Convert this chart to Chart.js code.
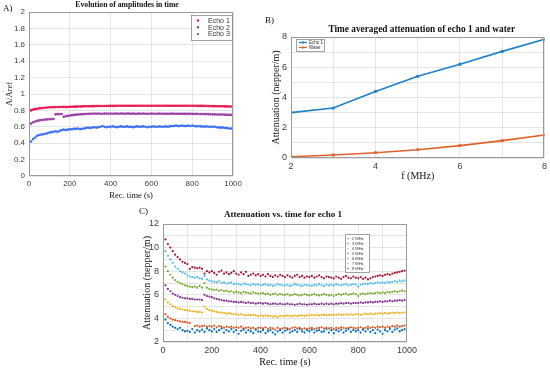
<!DOCTYPE html>
<html>
<head>
<meta charset="utf-8">
<script src="https://cdn.jsdelivr.net/npm/chart.js@4.4.1/dist/chart.umd.min.js"></script>
<style>
  html, body { margin: 0; padding: 0; background: #fff; }
  #page { position: relative; width: 550px; height: 369px; overflow: hidden; }
  canvas { position: absolute; }
  .tag { position: absolute; font: 9px "Liberation Serif", serif; color: #111; }
</style>
</head>
<body>
<div id="page">
  <canvas id="chartA" style="left:0;top:0;" width="245" height="203"></canvas>
  <canvas id="chartB" style="left:262px;top:10px;" width="288" height="175"></canvas>
  <canvas id="chartC" style="left:128px;top:200px;" width="292" height="169"></canvas>
  <div class="tag" style="left:3px;top:3px;">A)</div>
  <div class="tag" style="left:265px;top:15px;">B)</div>
  <div class="tag" style="left:139px;top:206px;">C)</div>
</div>
<script>
// ---- data ----
// recording times (s), one sample every 10 s
const times = Array.from({ length: 101 }, (_, i) => i * 10);

// Panel A: A/Aref per echo
const echo1Amp = [
  0.79, 0.80, 0.81, 0.815, 0.82, 0.825, 0.828, 0.83, 0.833, 0.835,
  0.837, 0.838, 0.84, 0.84, 0.841, 0.842, 0.842, 0.843, 0.84, 0.842,
  0.844, 0.845, 0.846, 0.846, 0.847, 0.848, 0.849, 0.85, 0.85, 0.85,
  0.851, 0.852, 0.852, 0.853, 0.853, 0.853, 0.854, 0.854, 0.854, 0.855,
  0.855, 0.855, 0.855, 0.856, 0.856, 0.856, 0.856, 0.856, 0.856, 0.856,
  0.856, 0.856, 0.856, 0.856, 0.856, 0.856, 0.856, 0.856, 0.856, 0.856,
  0.856, 0.856, 0.856, 0.856, 0.856, 0.856, 0.856, 0.856, 0.856, 0.856,
  0.856, 0.856, 0.856, 0.856, 0.856, 0.856, 0.856, 0.856, 0.856, 0.856,
  0.856, 0.856, 0.856, 0.855, 0.855, 0.855, 0.855, 0.854, 0.854, 0.853,
  0.852, 0.852, 0.851, 0.851, 0.85, 0.85, 0.849, 0.849, 0.848, 0.848, 0.848
];
const echo2Amp = [
  0.625, 0.64, 0.655, 0.665, 0.672, 0.678, 0.682, 0.685, 0.688, 0.69,
  0.692, 0.694, 0.695, 0.752, 0.754, 0.755, 0.756, 0.722, 0.728, 0.733,
  0.738, 0.742, 0.745, 0.748, 0.75, 0.752, 0.754, 0.756, 0.757, 0.758,
  0.76, 0.759, 0.761, 0.76, 0.762, 0.76, 0.759, 0.761, 0.762, 0.76,
  0.761, 0.76, 0.762, 0.761, 0.76, 0.763, 0.761, 0.76, 0.762, 0.761,
  0.76, 0.761, 0.759, 0.76, 0.761, 0.76, 0.762, 0.76, 0.759, 0.76,
  0.761, 0.76, 0.759, 0.76, 0.761, 0.759, 0.76, 0.76, 0.759, 0.76,
  0.761, 0.76, 0.759, 0.758, 0.76, 0.759, 0.758, 0.759, 0.758, 0.758,
  0.758, 0.757, 0.758, 0.757, 0.756, 0.756, 0.755, 0.755, 0.754, 0.753,
  0.752, 0.751, 0.75, 0.75, 0.749, 0.75, 0.748, 0.747, 0.746, 0.746, 0.745
];
const echo3Amp = [
  0.37, 0.42, 0.45, 0.47, 0.49, 0.50, 0.505, 0.51, 0.515, 0.52,
  0.53, 0.535, 0.54, 0.545, 0.54, 0.55, 0.56, 0.565, 0.56, 0.565,
  0.57, 0.57, 0.575, 0.575, 0.58, 0.57, 0.575, 0.58, 0.585, 0.59,
  0.585, 0.59, 0.595, 0.59, 0.595, 0.60, 0.61, 0.60, 0.595, 0.60,
  0.60, 0.605, 0.60, 0.595, 0.60, 0.605, 0.60, 0.60, 0.605, 0.60,
  0.60, 0.595, 0.60, 0.605, 0.60, 0.60, 0.605, 0.60, 0.595, 0.60,
  0.60, 0.605, 0.60, 0.60, 0.605, 0.60, 0.60, 0.605, 0.60, 0.605,
  0.61, 0.61, 0.615, 0.61, 0.61, 0.615, 0.61, 0.61, 0.615, 0.61,
  0.615, 0.61, 0.605, 0.61, 0.605, 0.605, 0.60, 0.605, 0.60, 0.60,
  0.60, 0.60, 0.595, 0.59, 0.59, 0.59, 0.585, 0.585, 0.58, 0.58, 0.578
];

// Panel B: time averaged attenuation vs frequency
const freqs = [2, 3, 4, 5, 6, 7, 8];
const echo1Att = [3.0, 3.3, 4.4, 5.4, 6.2, 7.05, 7.85];
const waterAtt = [0.08, 0.2, 0.35, 0.55, 0.82, 1.15, 1.52];

// Panel C: attenuation vs time for echo 1, per frequency
const freqLabels = ['2 MHz', '3 MHz', '4 MHz', '5 MHz', '6 MHz', '7 MHz', '8 MHz'];
const att2 = [
  4.2, 3.9, 3.6, 3.45, 3.3, 3.2, 3.1, 3.2, 3.0, 2.9,
  2.95, 2.85, 3.1, 2.8, 3.0, 2.9, 3.05, 2.85, 3.15, 3.0,
  2.9, 3.1, 2.85, 3.0, 3.15, 2.8, 3.0, 2.9, 3.1, 2.85,
  3.0, 2.7, 2.95, 3.05, 2.8, 3.0, 2.9, 2.75, 3.05, 2.9,
  2.85, 3.0, 2.75, 2.9, 3.0, 2.8, 2.65, 2.9, 3.0, 2.8,
  2.95, 3.05, 2.8, 2.9, 3.0, 2.85, 3.1, 2.9, 2.8, 3.0,
  2.9, 3.05, 2.8, 2.95, 3.0, 2.85, 2.9, 3.1, 2.8, 3.0,
  2.75, 3.0, 2.9, 3.05, 2.8, 2.95, 3.1, 2.85, 3.0, 2.9,
  3.0, 2.8, 3.05, 2.9, 3.1, 2.85, 3.0, 2.75, 3.05, 2.9,
  2.7, 3.0, 2.9, 3.1, 2.85, 3.05, 3.15, 2.9, 3.0, 3.1, 3.05
];
const att3 = [
  4.7, 4.35, 4.15, 4.0, 3.9, 3.85, 3.8, 3.75, 3.7, 3.7,
  3.65, 3.6, null, 3.35, 3.4, 3.3, 3.35, 3.4, 3.3, 3.35,
  3.3, 3.4, 3.25, 3.35, 3.3, 3.2, 3.3, 3.25, 3.3, 3.2,
  3.25, 3.2, 3.3, 3.15, 3.2, 3.25, 3.15, 3.2, 3.1, 3.2,
  3.2, 3.15, 3.25, 3.1, 3.2, 3.15, 3.05, 3.2, 3.1, 3.15,
  3.2, 3.15, 3.1, 3.2, 3.25, 3.15, 3.2, 3.1, 3.15, 3.1,
  3.15, 3.2, 3.1, 3.15, 3.2, 3.25, 3.15, 3.2, 3.15, 3.2,
  3.1, 3.2, 3.15, 3.25, 3.2, 3.15, 3.2, 3.25, 3.2, 3.15,
  3.2, 3.25, 3.15, 3.2, 3.3, 3.2, 3.25, 3.2, 3.3, 3.25,
  3.3, 3.2, 3.3, 3.25, 3.35, 3.3, 3.4, 3.3, 3.35, 3.4, 3.35
];
const att4 = [
  6.0, 5.6, 5.35, 5.2, 5.05, 4.95, 4.85, 4.8, 4.75, 4.7,
  4.7, 4.65, 4.6, 4.6, 4.55, 4.55, 4.5, 5.0, 4.8, 4.7,
  4.65, 4.6, 4.55, 4.5, 4.5, 4.45, 4.4, 4.45, 4.4, 4.35,
  4.35, 4.3, 4.35, 4.3, 4.25, 4.3, 4.25, 4.3, 4.25, 4.2,
  4.25, 4.2, 4.25, 4.2, 4.2, 4.15, 4.2, 4.1, 4.2, 4.2,
  4.2, 4.25, 4.2, 4.2, 4.25, 4.2, 4.25, 4.25, 4.2, 4.25,
  4.25, 4.3, 4.25, 4.3, 4.25, 4.3, 4.3, 4.25, 4.3, 4.3,
  4.3, 4.3, 4.35, 4.3, 4.3, 4.35, 4.3, 4.35, 4.3, 4.35,
  4.35, 4.3, 4.35, 4.4, 4.35, 4.4, 4.35, 4.4, 4.4, 4.45,
  4.4, 4.45, 4.4, 4.45, 4.5, 4.45, 4.5, 4.45, 4.5, 4.5, 4.45
];
const att5 = [
  7.2, 6.8, 6.5, 6.3, 6.1, 6.0, 5.9, 5.8, 5.75, 5.7,
  5.7, 5.65, 5.65, 5.6, 5.6, 5.6, 5.55, 6.0, 5.9, 5.85,
  5.8, 5.7, 5.65, 5.6, 5.55, 5.5, 5.5, 5.45, 5.45, 5.4,
  5.4, 5.35, 5.4, 5.35, 5.3, 5.35, 5.3, 5.3, 5.25, 5.3,
  5.3, 5.25, 5.3, 5.25, 5.2, 5.25, 5.25, 5.2, 5.25, 5.2,
  5.2, 5.25, 5.2, 5.2, 5.15, 5.2, 5.25, 5.2, 5.2, 5.15,
  5.2, 5.2, 5.25, 5.2, 5.2, 5.25, 5.2, 5.25, 5.2, 5.25,
  5.2, 5.25, 5.25, 5.3, 5.25, 5.3, 5.3, 5.25, 5.3, 5.3,
  5.3, 5.35, 5.3, 5.35, 5.35, 5.4, 5.35, 5.4, 5.4, 5.45,
  5.4, 5.45, 5.45, 5.5, 5.45, 5.5, 5.5, 5.55, 5.5, 5.55, 5.55
];
const att6 = [
  9.0, 8.4, 8.0, 7.7, 7.45, 7.25, 7.1, 7.0, 6.9, 6.8,
  6.75, 6.7, 6.65, 6.7, 6.6, 6.75, 6.6, 7.0, 6.6, 6.5,
  6.45, 6.4, 6.45, 6.35, 6.4, 6.3, 6.35, 6.25, 6.3, 6.2,
  6.25, 6.2, 6.15, 6.25, 6.2, 6.15, 6.1, 6.2, 6.15, 6.1,
  6.1, 6.15, 6.05, 6.1, 6.0, 6.05, 6.1, 6.0, 6.05, 6.0,
  6.0, 6.05, 5.95, 6.0, 6.05, 6.0, 5.95, 6.0, 6.05, 6.0,
  5.95, 6.0, 6.05, 6.0, 5.95, 6.0, 6.05, 6.0, 5.95, 6.0,
  5.9, 6.0, 6.05, 6.0, 6.05, 6.1, 6.0, 6.05, 6.1, 6.05,
  5.9, 6.05, 6.1, 6.05, 6.1, 6.15, 6.1, 6.15, 6.2, 6.15,
  6.2, 6.15, 6.25, 6.2, 6.25, 6.3, 6.25, 6.3, 6.35, 6.3, 6.3
];
const att7 = [
  10.2, 9.7, 9.3, 9.0, 8.7, 8.4, 8.2, 8.0, 7.9, 7.8,
  7.65, 7.55, 7.5, 7.45, 7.5, 7.4, 7.35, 7.6, 7.3, 7.2,
  7.15, 7.1, 7.05, 7.15, 7.0, 7.05, 6.95, 7.0, 7.05, 6.9,
  6.95, 6.9, 6.85, 6.95, 6.9, 6.85, 6.8, 6.9, 6.85, 6.9,
  6.8, 6.85, 6.9, 6.8, 6.85, 6.75, 6.8, 6.9, 6.85, 6.8,
  6.8, 6.85, 6.75, 6.8, 6.9, 6.85, 6.8, 6.75, 6.85, 6.8,
  6.8, 6.75, 6.85, 6.8, 6.9, 6.8, 6.75, 6.85, 6.8, 6.85,
  6.8, 6.9, 6.85, 6.8, 6.85, 6.9, 6.8, 6.85, 6.9, 6.85,
  6.7, 6.85, 6.9, 6.95, 6.9, 7.0, 6.95, 7.0, 7.05, 7.0,
  7.05, 7.0, 7.1, 7.05, 7.1, 7.15, 7.1, 7.2, 7.15, 7.2, 7.25
];
const att8 = [
  11.1, 10.7, 10.3, 10.0, 9.7, 9.4, 9.2, 9.0, 8.8, 8.7,
  8.6, 8.2, 8.35, 8.3, 8.25, 8.3, 8.2, 7.8, 8.0, 7.9,
  8.0, 7.85, 7.7, 7.95, 8.05, 7.8, 7.9, 7.75, 7.85, 8.0,
  7.8, 7.7, 7.9, 7.75, 7.95, 7.6, 7.7, 7.8, 7.65, 7.75,
  7.6, 7.7, 7.55, 7.75, 7.6, 7.5, 7.65, 7.55, 7.7, 7.6,
  7.5, 7.65, 7.55, 7.45, 7.6, 7.7, 7.5, 7.6, 7.45, 7.55,
  7.5, 7.6, 7.45, 7.55, 7.65, 7.5, 7.4, 7.55, 7.5, 7.45,
  7.4, 7.55, 7.45, 7.35, 7.5, 7.6, 7.45, 7.4, 7.55, 7.45,
  7.4, 7.5, 7.35, 7.45, 7.3, 7.4, 7.5, 7.55, 7.6, 7.65,
  7.6, 7.7, 7.75, 7.7, 7.8, 7.85, 7.9, 7.95, 8.0, 8.05, 8.1
];

// ---- shared styling ----
const SANS = '"Liberation Sans", Arial, sans-serif';
const SERIF = '"Liberation Serif", "Times New Roman", serif';
const GRID = '#e4e4e4';
const FRAME = '#9a9a9a';
const TICK_COLOR = '#3c3c3c';
const matlabColors = ['#0072BD', '#D95319', '#EDB120', '#7E2F8E', '#77AC30', '#4DBEEE', '#A2142F'];

const toPoints = (xs, ys) => xs.map((x, i) => ({ x, y: ys[i] })).filter(p => p.y !== null);

// draws title above plot area, frame around it and an inset legend box
const panelDecor = {
  id: 'panelDecor',
  afterDraw(chart, args, opts) {
    const { ctx, chartArea: a } = chart;
    ctx.save();
    ctx.strokeStyle = FRAME;
    ctx.lineWidth = 1;
    ctx.strokeRect(Math.round(a.left) + 0.5, Math.round(a.top) + 0.5,
      Math.round(a.right - a.left) - 1, Math.round(a.bottom - a.top) - 1);

    if (opts.title) {
      ctx.fillStyle = '#111';
      ctx.font = opts.title.font;
      ctx.textAlign = 'center';
      ctx.textBaseline = 'middle';
      ctx.fillText(opts.title.text, (a.left + a.right) / 2 + (opts.title.dx || 0), opts.title.y);
    }

    const lg = opts.legend;
    if (lg) {
      ctx.fillStyle = '#fff';
      ctx.fillRect(lg.x, lg.y, lg.w, lg.h);
      ctx.strokeStyle = '#8a8a8a';
      ctx.lineWidth = 0.8;
      ctx.strokeRect(lg.x + 0.5, lg.y + 0.5, lg.w, lg.h);
      ctx.font = lg.font;
      ctx.textAlign = 'left';
      ctx.textBaseline = 'middle';
      chart.data.datasets.forEach((ds, i) => {
        const y = lg.y + lg.first + i * lg.step;
        ctx.fillStyle = ds.borderColor;
        ctx.strokeStyle = ds.borderColor;
        if (lg.line) {
          ctx.lineWidth = 1.2;
          ctx.beginPath();
          ctx.moveTo(lg.x + lg.mx - lg.line, y);
          ctx.lineTo(lg.x + lg.mx + lg.line, y);
          ctx.stroke();
          ctx.fillRect(lg.x + lg.mx - 1, y - 1, 2, 2);
        } else {
          ctx.beginPath();
          ctx.arc(lg.x + lg.mx, y, lg.dot, 0, Math.PI * 2);
          ctx.fill();
        }
        ctx.fillStyle = '#333';
        ctx.fillText(ds.label, lg.x + lg.tx, y + 0.3);
      });
    }
    ctx.restore();
  }
};

function axis(opts) {
  return {
    type: 'linear',
    min: opts.min,
    max: opts.max,
    border: { display: false },
    grid: { color: GRID, lineWidth: 1, drawTicks: false },
    ticks: {
      stepSize: opts.step,
      color: TICK_COLOR,
      font: { family: SANS, size: opts.tickSize },
      padding: opts.pad,
      maxRotation: 0,
      autoSkip: false,
      callback: opts.label || (v => v)
    },
    title: {
      display: true,
      text: opts.title,
      color: '#111',
      font: { family: SERIF, size: opts.titleSize },
      padding: opts.titlePad
    },
    afterFit: opts.size
  };
}

const baseOptions = {
  responsive: false,
  animation: false,
  events: [],
  plugins: { legend: { display: false }, tooltip: { enabled: false } }
};

// ---- Panel A ----
new Chart(document.getElementById('chartA'), {
  type: 'scatter',
  data: {
    datasets: [
      { label: 'Echo 1', data: toPoints(times, echo1Amp), borderColor: '#e8174f', backgroundColor: '#e8174f' },
      { label: 'Echo 2', data: toPoints(times, echo2Amp), borderColor: '#9b3fa6', backgroundColor: '#9b3fa6' },
      { label: 'Echo 3', data: toPoints(times, echo3Amp), borderColor: '#3a6ff2', backgroundColor: '#3a6ff2' }
    ].map(d => Object.assign(d, { pointRadius: 1.3, pointBorderWidth: 0, showLine: false }))
  },
  options: Object.assign({}, baseOptions, {
    layout: { padding: { left: 0, top: 12, right: 8, bottom: 0 } },
    scales: {
      x: axis({ min: 0, max: 1000, step: 200, tickSize: 8, pad: 3, title: 'Rec. time (s)', titleSize: 8.5,
        titlePad: { top: 0, bottom: 2 }, size: s => { s.height = 27; } }),
      y: axis({ min: 0, max: 2, step: 0.2, tickSize: 8, pad: 4, title: 'A/Aref', titleSize: 8.5,
        titlePad: { top: 5, bottom: 0 }, size: s => { s.width = 29; } })
    },
    plugins: Object.assign({}, baseOptions.plugins, {
      panelDecor: {
        title: { text: 'Evolution of amplitudes in time', font: 'bold 7.7px ' + SERIF, y: 5.5, dx: -4 },
        legend: { x: 191, y: 15, w: 41, h: 25, first: 5.5, step: 6.8, mx: 7, tx: 17, dot: 1.2, font: '7px ' + SANS }
      }
    })
  }),
  plugins: [panelDecor]
});

// ---- Panel B ----
new Chart(document.getElementById('chartB'), {
  type: 'scatter',
  data: {
    datasets: [
      { label: 'Echo 1', data: toPoints(freqs, echo1Att), borderColor: '#1f80c8', backgroundColor: '#1f80c8' },
      { label: 'Water', data: toPoints(freqs, waterAtt), borderColor: '#e0622a', backgroundColor: '#e0622a' }
    ].map(d => Object.assign(d, { showLine: true, borderWidth: 1.6, pointStyle: 'rect', pointRadius: 2, pointBorderWidth: 0 }))
  },
  options: Object.assign({}, baseOptions, {
    layout: { padding: { left: 0, top: 27, right: 4, bottom: 0 } },
    scales: {
      x: axis({ min: 2, max: 8, step: 1, tickSize: 9, pad: 3, title: 'f (MHz)', titleSize: 10,
        titlePad: { top: 0, bottom: 3 }, label: v => (v % 2 === 0 ? v : ''), size: s => { s.height = 27; } }),
      y: axis({ min: 0, max: 8, step: 1, tickSize: 9, pad: 4, title: 'Attenuation (nepper/m)', titleSize: 10,
        titlePad: { top: 8, bottom: 0 }, label: v => (v % 2 === 0 ? v : ''), size: s => { s.width = 29; } })
    },
    plugins: Object.assign({}, baseOptions.plugins, {
      panelDecor: {
        title: { text: 'Time averaged attenuation of echo 1 and water', font: 'bold 9.3px ' + SERIF, y: 20, dx: 4 },
        legend: { x: 34, y: 29, w: 28, h: 12, first: 3.5, step: 5, mx: 7, tx: 13, line: 4, font: '4.5px ' + SANS }
      }
    })
  }),
  plugins: [panelDecor]
});

// ---- Panel C ----
const attSeries = [att2, att3, att4, att5, att6, att7, att8];
new Chart(document.getElementById('chartC'), {
  type: 'scatter',
  data: {
    datasets: attSeries.map((vals, i) => ({
      label: freqLabels[i],
      data: toPoints(times, vals),
      borderColor: matlabColors[i],
      backgroundColor: matlabColors[i],
      pointRadius: 1.1,
      pointBorderWidth: 0,
      showLine: false
    }))
  },
  options: Object.assign({}, baseOptions, {
    layout: { padding: { left: 0, top: 24, right: 9, bottom: 0 } },
    scales: {
      x: axis({ min: 0, max: 1000, step: 100, tickSize: 9, pad: 3, title: 'Rec. time (s)', titleSize: 10,
        titlePad: { top: 0, bottom: 1 }, label: v => (v % 200 === 0 ? v : ''), size: s => { s.height = 27; } }),
      y: axis({ min: 2, max: 12, step: 1, tickSize: 9, pad: 4, title: 'Attenuation (nepper/m)', titleSize: 10,
        titlePad: { top: 13, bottom: 0 }, label: v => (v % 2 === 0 ? v : ''), size: s => { s.width = 35; } })
    },
    plugins: Object.assign({}, baseOptions.plugins, {
      panelDecor: {
        title: { text: 'Attenuation vs. time for echo 1', font: 'bold 9px ' + SERIF, y: 15, dx: -2 },
        legend: { x: 217, y: 34, w: 24, h: 38, first: 4.5, step: 5, mx: 3, tx: 7, dot: 0.7, font: '4px ' + SANS }
      }
    })
  }),
  plugins: [panelDecor]
});
</script>
</body>
</html>
